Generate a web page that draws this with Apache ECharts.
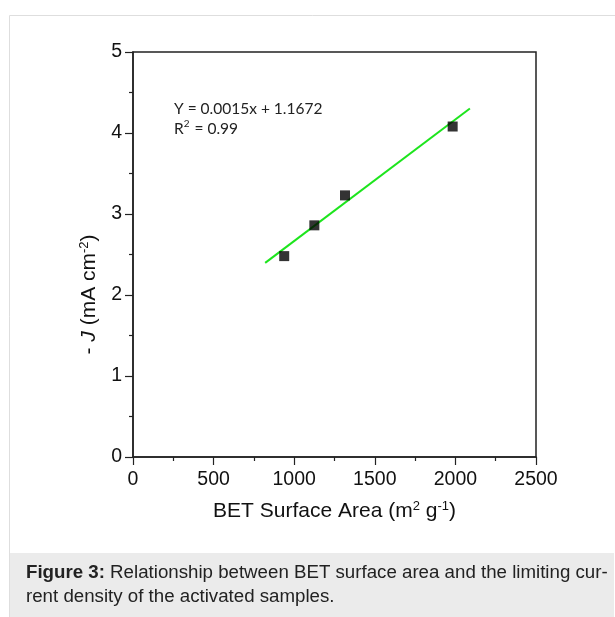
<!DOCTYPE html>
<html>
<head>
<meta charset="utf-8">
<script src="https://cdn.jsdelivr.net/npm/echarts@6/dist/echarts.min.js"></script>
<style>
  html, body { margin: 0; padding: 0; background: #fff; }
  #chart { width: 615px; height: 617px; }
</style>
</head>
<body>
<div id="chart"></div>
<script>
// Measured samples: BET surface area vs. limiting current density
const surfaceArea = [938, 1125, 1315, 1983];
const currentDensity = [2.48, 2.86, 3.23, 4.08];

// Linear fit reported on the plot
const fitSlope = 0.0015;
const fitIntercept = 1.1672;
const fitRange = [820, 2090];

const xTicks = [0, 500, 1000, 1500, 2000, 2500];
const yTicks = [0, 1, 2, 3, 4, 5];

const fitLabel = 'Y = 0.0015x + 1.1672';
const r2Value = '0.99';
const captionHead = 'Figure 3:';
const captionLine1 = ' Relationship between BET surface area and the limiting cur-';
const captionLine2 = 'rent density of the activated samples.';

const points = surfaceArea.map((x, i) => [x, currentDensity[i]]);
const fitLine = fitRange.map(x => [x, fitSlope * x + fitIntercept]);

const chart = echarts.init(document.getElementById('chart'), null, { renderer: 'canvas' });

const axisFont = "'Liberation Sans', Arial, sans-serif";
const noteFont = "Lato, 'Open Sans', sans-serif";
const ink = '#111';

chart.setOption({
  animation: false,
  backgroundColor: '#fff',
  grid: {
    left: 133, top: 52, right: 79, bottom: 160,
    show: true, borderColor: '#222', borderWidth: 1.5, backgroundColor: 'transparent'
  },
  xAxis: {
    type: 'value',
    min: xTicks[0], max: xTicks[xTicks.length - 1], interval: 500,
    splitLine: { show: false },
    axisLine: { lineStyle: { color: '#222', width: 1.5 } },
    axisTick: { inside: false, length: 8, lineStyle: { color: '#222', width: 1.2 } },
    minorTick: { show: true, splitNumber: 2, length: 4, lineStyle: { color: '#222', width: 1.2 } },
    axisLabel: {
      color: ink, fontSize: 19.5, fontFamily: axisFont, margin: 13,
      formatter: v => String(v)
    },
    name: '{t|BET Surface Area (m}{s|2}{t| g}{s|-1}{t|)}',
    nameLocation: 'middle', nameGap: 43,
    nameTextStyle: {
      rich: {
        t: { fontSize: 21, fontFamily: axisFont, color: ink },
        s: { fontSize: 13, fontFamily: axisFont, color: ink, verticalAlign: 'top', padding: [0, 0, 10, 0] }
      }
    }
  },
  yAxis: {
    type: 'value',
    min: yTicks[0], max: yTicks[yTicks.length - 1], interval: 1,
    splitLine: { show: false },
    axisLine: { show: true, lineStyle: { color: '#222', width: 1.5 } },
    axisTick: { show: true, inside: false, length: 8, lineStyle: { color: '#222', width: 1.2 } },
    minorTick: { show: true, splitNumber: 2, length: 4, lineStyle: { color: '#222', width: 1.2 } },
    axisLabel: { color: ink, fontSize: 19.5, fontFamily: axisFont, margin: 11 },
    name: '{t|- }{i|J}{t| (mA cm}{s|-2}{t|)}',
    nameLocation: 'middle', nameGap: 32, nameRotate: 90,
    nameTextStyle: {
      padding: [0, 80, 0, 0],
      rich: {
        t: { fontSize: 21, fontFamily: axisFont, color: ink },
        i: { fontSize: 21, fontFamily: axisFont, fontStyle: 'italic', color: ink },
        s: { fontSize: 13, fontFamily: axisFont, color: ink, verticalAlign: 'top', padding: [0, 0, 10, 0] }
      }
    }
  },
  series: [
    {
      type: 'line',
      data: fitLine,
      symbol: 'none',
      lineStyle: { color: '#1de51d', width: 2 },
      z: 2
    },
    {
      type: 'scatter',
      data: points,
      symbol: 'rect',
      symbolSize: 10,
      itemStyle: { color: '#000' },
      z: 3
    }
  ],
  graphic: [
    // outer frame of the figure panel
    {
      type: 'rect', z: -10, silent: true,
      shape: { x: 9.5, y: 15.5, width: 620, height: 620 },
      style: { fill: '#fff', stroke: '#dedede', lineWidth: 1 }
    },
    // caption band
    {
      type: 'rect', z: -9, silent: true,
      shape: { x: 10, y: 553, width: 604, height: 70 },
      style: { fill: '#ebebeb' }
    },
    {
      type: 'text', left: 26, top: 563, z: 5,
      style: {
        text: '{b|' + captionHead + '}{n|' + captionLine1 + '}\n{n|' + captionLine2 + '}',
        rich: {
          b: { fontSize: 18.7, fontWeight: 'bold', fontFamily: axisFont, fill: '#222', lineHeight: 24 },
          n: { fontSize: 18.7, fontFamily: axisFont, fill: '#222', lineHeight: 24 }
        }
      }
    },
    // fit equation
    {
      type: 'text', left: 174, top: 101, z: 5,
      style: {
        text: '{t|' + fitLabel + '}\n{t|R}{s|2}{t| = ' + r2Value + '}',
        rich: {
          t: { fontSize: 15.5, fontFamily: noteFont, fill: '#222', lineHeight: 20 },
          s: { fontSize: 10, fontFamily: noteFont, fill: '#222', verticalAlign: 'top', lineHeight: 20, padding: [0, 1, 6, 0] }
        }
      }
    }
  ]
});
</script>
</body>
</html>
